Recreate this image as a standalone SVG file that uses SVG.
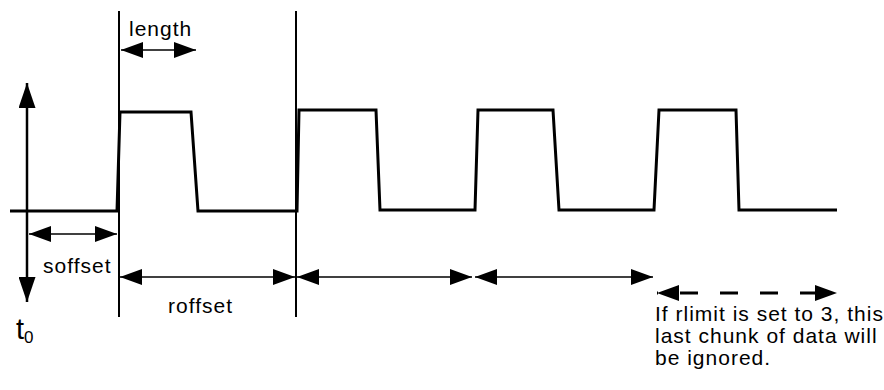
<svg xmlns="http://www.w3.org/2000/svg" width="884" height="390" viewBox="0 0 884 390">
<defs>
<style>
.lbl{font-family:"Liberation Sans",Arial,sans-serif;font-size:21px;letter-spacing:1px;fill:#000}
.wave{fill:none;stroke:#000;stroke-width:3;stroke-linejoin:miter}
.rule{stroke:#000;stroke-width:2}
.dim{stroke:#000;stroke-width:1.5;fill:none}
.axis{stroke:#000;stroke-width:2.5;fill:none}
.dash{stroke:#000;stroke-width:3;fill:none;stroke-dasharray:18 22}
</style>
<marker id="ah" viewBox="0 0 22 16" markerUnits="userSpaceOnUse" markerWidth="22" markerHeight="16" refX="22" refY="8" orient="auto-start-reverse">
<path d="M0,0 L22,8 L0,16 z" fill="#000"/>
</marker>
<marker id="ahBig" viewBox="0 0 25 17" markerUnits="userSpaceOnUse" markerWidth="25" markerHeight="17" refX="25" refY="8.5" orient="auto-start-reverse">
<path d="M0,0 L25,8.5 L0,17 z" fill="#000"/>
</marker>
</defs>
<rect width="884" height="390" fill="#fff"/>
<g id="waveform">
<polyline class="wave" points="10,211 117,211 120,112 191,112 198,211 297,211 299,110 376,110 380,210 475,210 478,110 553,110 559,210 654,210 659,110 736,110 739,210 837,210"/>
</g>
<g id="rules">
<line class="rule" x1="119" y1="11" x2="119" y2="317"/>
<line class="rule" x1="296" y1="11" x2="296" y2="317"/>
</g>
<g id="connectors">
<line class="axis" x1="27" y1="83" x2="27" y2="302" marker-start="url(#ahBig)" marker-end="url(#ahBig)"/>
<line class="dim" x1="121" y1="50" x2="196" y2="50" marker-start="url(#ah)" marker-end="url(#ah)"/>
<line class="dim" x1="29" y1="234" x2="117" y2="234" marker-start="url(#ah)" marker-end="url(#ah)"/>
<line class="dim" x1="120" y1="277" x2="295" y2="277" marker-start="url(#ah)" marker-end="url(#ah)"/>
<line class="dim" x1="297" y1="277" x2="472" y2="277" marker-start="url(#ah)" marker-end="url(#ah)"/>
<line class="dim" x1="475" y1="277" x2="653" y2="277" marker-start="url(#ah)" marker-end="url(#ah)"/>
<line class="dash" x1="657" y1="293" x2="837" y2="293" stroke-dashoffset="-23" marker-start="url(#ah)" marker-end="url(#ah)"/>
</g>
<g id="labels">
<text class="lbl" x="129" y="36">length</text>
<text class="lbl" x="43" y="273">soffset</text>
<text class="lbl" x="168" y="313">roffset</text>
<text x="16" y="339" font-family="Liberation Sans, Arial, sans-serif" font-size="29">t<tspan font-size="17" dy="4">0</tspan></text>
<text class="lbl" x="655" y="321">If rlimit is set to 3, this</text>
<text class="lbl" x="655" y="343">last chunk of data will</text>
<text class="lbl" x="655" y="365">be ignored.</text>
</g>
</svg>
